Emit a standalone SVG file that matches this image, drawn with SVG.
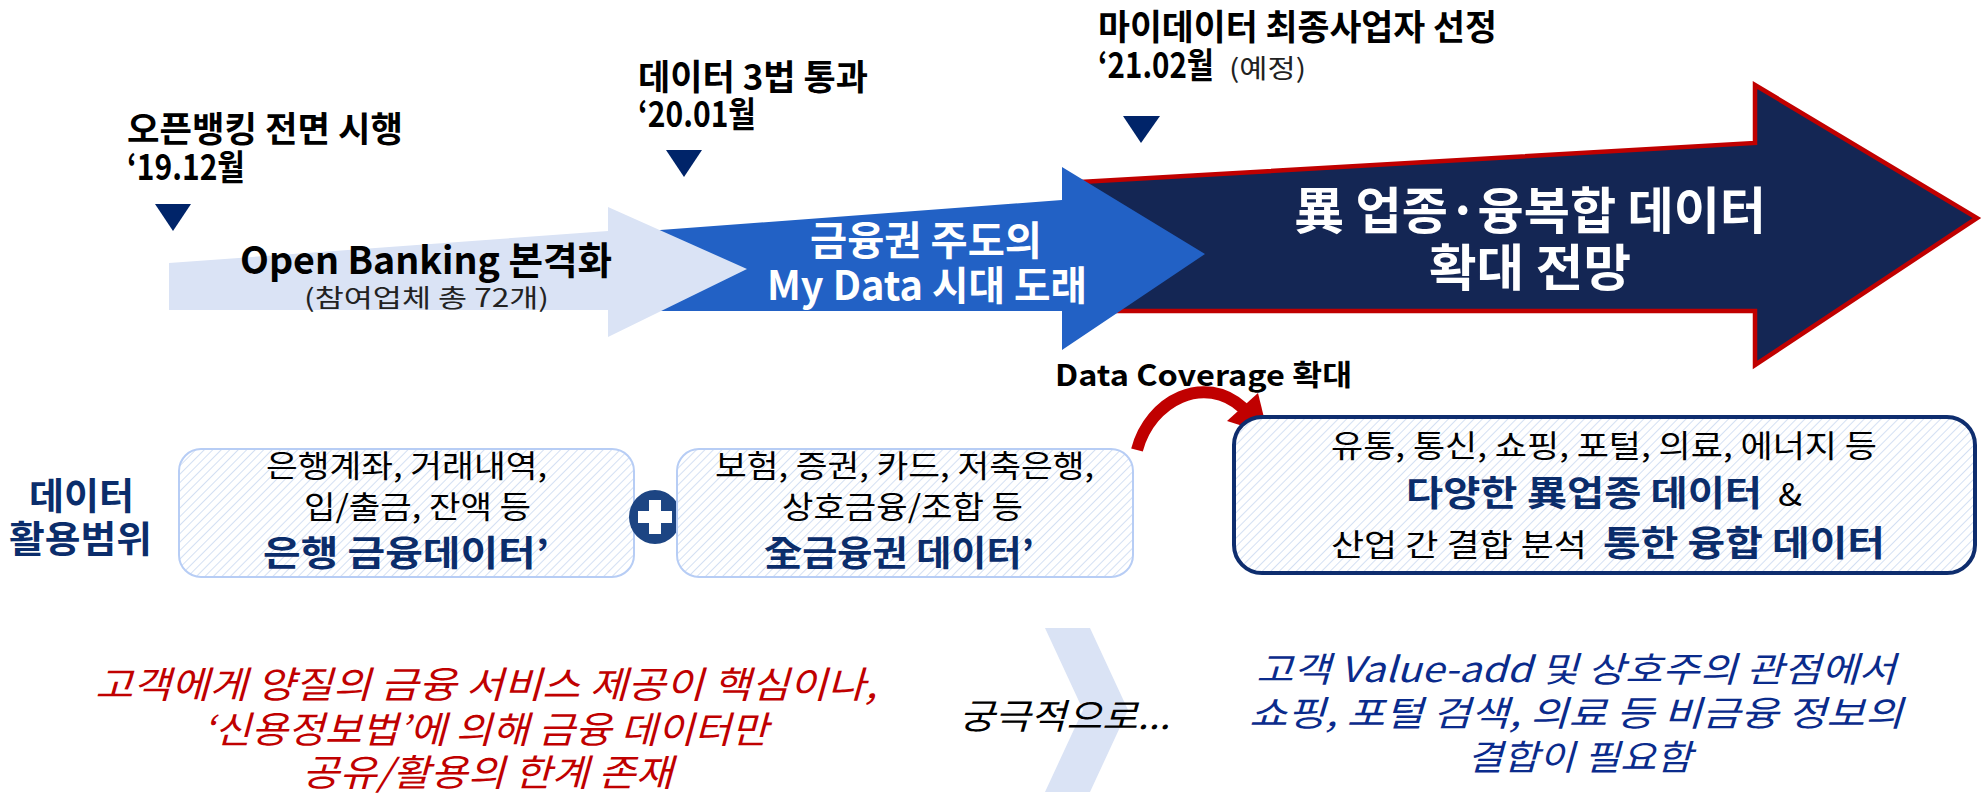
<svg xmlns="http://www.w3.org/2000/svg" width="1985" height="794" viewBox="0 0 1985 794">
<style>
text{font-family:"Noto Sans CJK KR","Noto Sans",sans-serif;}
.lbl{font-size:35px;font-weight:700;fill:#000;}
.sub{font-size:26px;font-weight:400;fill:#222;}
.wh{fill:#fff;font-weight:700;}
.body{font-size:31px;font-weight:400;fill:#000;}
.navyb{font-size:35px;font-weight:700;fill:#0B2D6B;}
.red{font-size:37px;font-style:italic;fill:#C00000;}
.blu{font-size:35px;font-style:italic;fill:#0A2B8C;}
.marker{fill:#002469;}
.softbox{fill:url(#hatch);stroke:#B7CDF5;stroke-width:2;}
</style>
<defs>
<pattern id="hatch" patternUnits="userSpaceOnUse" width="6" height="6" patternTransform="rotate(45)">
<rect width="6" height="6" fill="#fff"/>
<line x1="0" y1="0" x2="0" y2="6" stroke="#C9D8F0" stroke-width="1.6"/>
</pattern>
</defs>

<g id="milestones">
<polygon class="marker" points="155,204 191,204 173,231"/>
<polygon class="marker" points="666,150 702,150 684,177"/>
<polygon class="marker" points="1123,116 1160,116 1141,143"/>
<text class="lbl" x="127" y="142" textLength="276" lengthAdjust="spacingAndGlyphs">오픈뱅킹 전면 시행</text>
<text class="lbl" x="127" y="180" textLength="118" lengthAdjust="spacingAndGlyphs">‘19.12월</text>
<text class="lbl" x="638" y="90" textLength="230" lengthAdjust="spacingAndGlyphs">데이터 3법 통과</text>
<text class="lbl" x="638" y="127" textLength="118" lengthAdjust="spacingAndGlyphs">‘20.01월</text>
<text class="lbl" x="1098" y="40" textLength="399" lengthAdjust="spacingAndGlyphs">마이데이터 최종사업자 선정</text>
<text class="lbl" x="1098" y="78" textLength="116" lengthAdjust="spacingAndGlyphs">‘21.02월</text>
<text class="sub" x="1229" y="78" textLength="77" lengthAdjust="spacingAndGlyphs">(예정)</text>
</g>

<g id="arrow-dark">
<polygon points="1080,182 1755,143 1755,85 1977,218 1755,365 1755,311 1080,311" fill="#142654" stroke="#C00000" stroke-width="4.5" stroke-linejoin="miter"/>
<text class="wh" style="font-size:50px" x="1294" y="229" textLength="472" lengthAdjust="spacingAndGlyphs">異 업종·융복합 데이터</text>
<text class="wh" style="font-size:50px" x="1429" y="286" textLength="202" lengthAdjust="spacingAndGlyphs">확대 전망</text>
</g>

<g id="arrow-blue">
<polygon points="620,233 1062,200 1062,167 1205,254 1062,350 1062,311 620,311" fill="#2261C5"/>
<text class="wh" style="font-size:40px" x="810" y="255" textLength="232" lengthAdjust="spacingAndGlyphs">금융권 주도의</text>
<text class="wh" style="font-size:40px" x="767" y="300" textLength="320" lengthAdjust="spacingAndGlyphs">My Data 시대 도래</text>
</g>

<g id="arrow-light">
<polygon points="169,263 608,231 608,207 747,269 608,337 608,310 169,310" fill="#DAE3F5"/>
<text style="font-size:38px;font-weight:700;fill:#000" x="240" y="274" textLength="372" lengthAdjust="spacingAndGlyphs">Open Banking 본격화</text>
<text style="font-size:25px;fill:#222" x="304" y="307" textLength="245" lengthAdjust="spacingAndGlyphs">(참여업체 총 72개)</text>
</g>

<g id="scope-label">
<text style="font-size:37px;font-weight:700;fill:#0B2D6B" x="29" y="510" textLength="105" lengthAdjust="spacingAndGlyphs">데이터</text>
<text style="font-size:37px;font-weight:700;fill:#0B2D6B" x="9" y="553" textLength="143" lengthAdjust="spacingAndGlyphs">활용범위</text>
</g>

<g id="box-bank">
<rect class="softbox" x="179" y="449" width="455" height="128" rx="22"/>
<text class="body" x="266" y="477" textLength="281" lengthAdjust="spacingAndGlyphs">은행계좌, 거래내역,</text>
<text class="body" x="304" y="518" textLength="227" lengthAdjust="spacingAndGlyphs">입/출금, 잔액 등</text>
<text class="navyb" x="263" y="566" textLength="286" lengthAdjust="spacingAndGlyphs">은행 금융데이터’</text>
</g>

<g id="plus">
<ellipse cx="655" cy="517" rx="26" ry="27" fill="#1D4583"/>
<path d="M649,500 h12 v11 h11 v12 h-11 v11 h-12 v-11 h-11 v-12 h11 z" fill="#fff"/>
</g>

<g id="box-finance">
<rect class="softbox" x="677" y="449" width="456" height="128" rx="22"/>
<text class="body" x="715" y="477" textLength="379" lengthAdjust="spacingAndGlyphs">보험, 증권, 카드, 저축은행,</text>
<text class="body" x="782" y="518" textLength="241" lengthAdjust="spacingAndGlyphs">상호금융/조합 등</text>
<text class="navyb" x="764" y="566" textLength="270" lengthAdjust="spacingAndGlyphs">全금융권 데이터’</text>
</g>

<g id="connectors">
<path d="M1137,450 C1150,400 1205,373 1243,408" fill="none" stroke="#C00000" stroke-width="12"/>
<polygon points="1258,393 1227,421 1268,434" fill="#C00000"/>
<text style="font-size:29px;font-weight:700;fill:#000" x="1055" y="386" textLength="297" lengthAdjust="spacingAndGlyphs">Data Coverage 확대</text>
</g>

<g id="box-convergence">
<rect x="1234" y="417" width="741" height="156" rx="28" fill="url(#hatch)" stroke="#0E2D6E" stroke-width="4"/>
<text class="body" x="1331" y="457" textLength="546" lengthAdjust="spacingAndGlyphs">유통, 통신, 쇼핑, 포털, 의료, 에너지 등</text>
<text class="navyb" x="1406" y="506" textLength="356" lengthAdjust="spacingAndGlyphs">다양한 異업종 데이터</text>
<text class="body" x="1778" y="506" textLength="24" lengthAdjust="spacingAndGlyphs">&amp;</text>
<text class="body" x="1331" y="556" textLength="256" lengthAdjust="spacingAndGlyphs">산업 간 결합 분석</text>
<text class="navyb" x="1603" y="556" textLength="282" lengthAdjust="spacingAndGlyphs">통한 융합 데이터</text>
</g>

<g id="problem">
<text class="red" x="95" y="698" textLength="782" lengthAdjust="spacingAndGlyphs">고객에게 양질의 금융 서비스 제공이 핵심이나,</text>
<text class="red" x="203" y="743" textLength="565" lengthAdjust="spacingAndGlyphs">‘신용정보법’에 의해 금융 데이터만</text>
<text class="red" x="302" y="786" textLength="371" lengthAdjust="spacingAndGlyphs">공유/활용의 한계 존재</text>
</g>

<g id="chevron">
<polygon points="1045,628 1090,628 1128,710 1090,792 1045,792 1083,710" fill="#DAE3F5"/>
<text style="font-size:35px;font-style:italic;fill:#000" x="959" y="729" textLength="211" lengthAdjust="spacingAndGlyphs">궁극적으로...</text>
</g>

<g id="conclusion">
<text class="blu" x="1256" y="682" textLength="640" lengthAdjust="spacingAndGlyphs">고객 Value-add 및 상호주의 관점에서</text>
<text class="blu" x="1249" y="726" textLength="654" lengthAdjust="spacingAndGlyphs">쇼핑, 포털 검색, 의료 등 비금융 정보의</text>
<text class="blu" x="1467" y="770" textLength="225" lengthAdjust="spacingAndGlyphs">결합이 필요함</text>
</g>
</svg>
